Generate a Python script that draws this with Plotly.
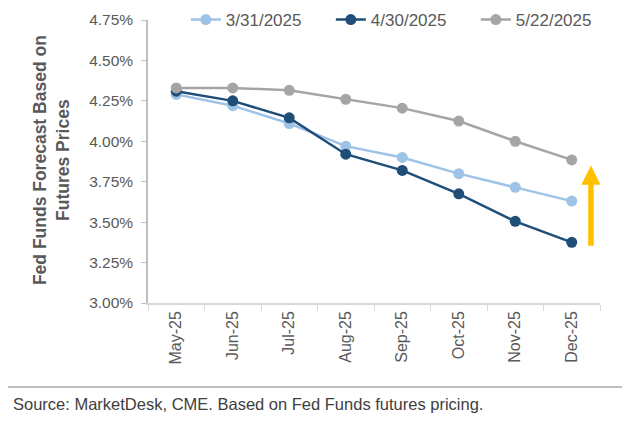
import plotly.graph_objects as go

months = ["May-25", "Jun-25", "Jul-25", "Aug-25", "Sep-25", "Oct-25", "Nov-25", "Dec-25"]
s_0331 = [4.29, 4.22, 4.11, 3.97, 3.90, 3.80, 3.715, 3.63]
s_0430 = [4.31, 4.25, 4.145, 3.92, 3.82, 3.675, 3.505, 3.375]
s_0522 = [4.33, 4.33, 4.315, 4.26, 4.205, 4.125, 4.00, 3.885]
names = ["3/31/2025", "4/30/2025", "5/22/2025"]
colors = ["#9DC3E6", "#1F4E79", "#A5A5A5"]
y_ticks = [3.00, 3.25, 3.50, 3.75, 4.00, 4.25, 4.50, 4.75]
y_labels = ["%.2f%%" % v for v in y_ticks]
arrow_from, arrow_to = 3.345, 3.85

fig = go.Figure()
for name, vals, c in zip(names, [s_0331, s_0430, s_0522], colors):
    fig.add_trace(go.Scatter(x=months, y=vals, name=name, mode="lines+markers",
                             line=dict(color=c, width=2.5),
                             marker=dict(color=c, size=11)))

fig.add_annotation(x=7.34, y=arrow_to, ax=7.34, ay=arrow_from, xref="x", yref="y",
                   axref="x", ayref="y", text="", showarrow=True,
                   arrowhead=2, arrowsize=0.7, arrowwidth=5.5, arrowcolor="#FFC000")

fig.add_shape(type="line", xref="paper", yref="paper", x0=-0.31, x1=1.049,
              y0=-0.297, y1=-0.297, line=dict(color="#BFBFBF", width=2))
fig.add_annotation(xref="paper", yref="paper", x=-0.303, y=-0.357, xanchor="left",
                   yanchor="middle", showarrow=False,
                   text="Source: MarketDesk, CME. Based on Fed Funds futures pricing.",
                   font=dict(size=16.5, color="#404040"))
fig.add_annotation(xref="paper", yref="paper", x=-0.2146, y=0.505, xanchor="center",
                   yanchor="middle", showarrow=False, textangle=-90,
                   text="<b>Fed Funds Forecast Based on<br>Futures Prices</b>",
                   font=dict(size=17.5, color="#595959"))

fig.update_layout(
    width=624, height=414,
    margin=dict(l=140, r=32, t=12, b=119, autoexpand=False),
    paper_bgcolor="white", plot_bgcolor="white",
    font=dict(family="Liberation Sans, Arial", color="#595959"),
    showlegend=True,
    legend=dict(orientation="h", xref="container", x=0.285, y=1.0, xanchor="left",
                yanchor="middle",
                font=dict(size=17, color="#595959"), bgcolor="rgba(0,0,0,0)",
                entrywidth=100, entrywidthmode="pixels", itemwidth=30),
    xaxis=dict(type="category", showline=True, linecolor="#D9D9D9", linewidth=1.5,
               ticks="outside", tickson="boundaries", ticklen=6, tickcolor="#D9D9D9",
               tickangle=-90, tickfont=dict(size=16, color="#595959"),
               showgrid=False, range=[-0.5, 7.5]),
    yaxis=dict(range=[3.0, 4.75], tickvals=y_ticks, ticktext=y_labels,
               showline=True, linecolor="#BFBFBF", linewidth=1.5, ticks="outside",
               ticklen=5, tickcolor="#BFBFBF", showgrid=False, zeroline=False,
               ticklabelstandoff=5,
               tickfont=dict(size=15.5, color="#595959")),
)

fig.write_html("out.html")
